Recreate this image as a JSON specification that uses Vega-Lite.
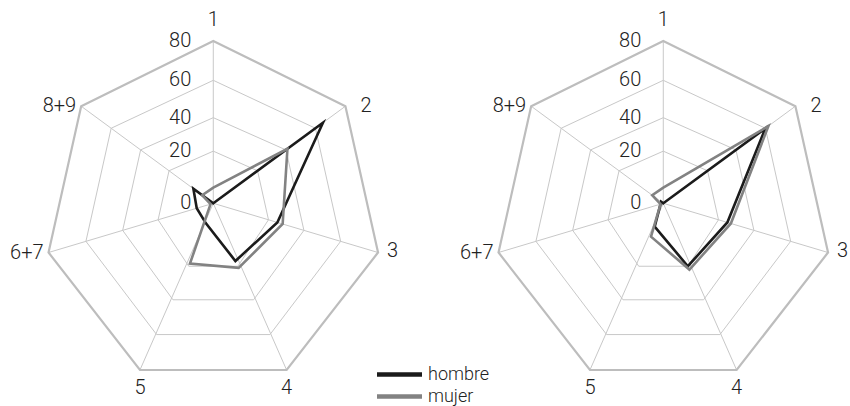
{
  "$schema": "https://vega.github.io/schema/vega-lite/v6.json",
  "width": 850,
  "height": 406,
  "padding": 0,
  "autosize": {"type": "none"},
  "background": "#ffffff",
  "config": {"view": {"stroke": null}},
  "datasets": {
    "cats": [
      {"k": 0, "cat": "1"}, {"k": 1, "cat": "2"}, {"k": 2, "cat": "3"}, {"k": 3, "cat": "4"},
      {"k": 4, "cat": "5"}, {"k": 5, "cat": "6+7"}, {"k": 6, "cat": "8+9"}
    ],
    "ticks": [{"v": 0}, {"v": 20}, {"v": 40}, {"v": 60}, {"v": 80}],
    "vals": [
      {"panel": "A", "serie": "hombre", "k": 0, "v": 0},
      {"panel": "A", "serie": "hombre", "k": 1, "v": 65},
      {"panel": "A", "serie": "hombre", "k": 2, "v": 25},
      {"panel": "A", "serie": "hombre", "k": 3, "v": 18},
      {"panel": "A", "serie": "hombre", "k": 4, "v": 6},
      {"panel": "A", "serie": "hombre", "k": 5, "v": 6},
      {"panel": "A", "serie": "hombre", "k": 6, "v": 9},
      {"panel": "A", "serie": "mujer", "k": 0, "v": 6},
      {"panel": "A", "serie": "mujer", "k": 1, "v": 41},
      {"panel": "A", "serie": "mujer", "k": 2, "v": 28},
      {"panel": "A", "serie": "mujer", "k": 3, "v": 21},
      {"panel": "A", "serie": "mujer", "k": 4, "v": 19},
      {"panel": "A", "serie": "mujer", "k": 5, "v": 1},
      {"panel": "A", "serie": "mujer", "k": 6, "v": 5},
      {"panel": "B", "serie": "hombre", "k": 0, "v": 0},
      {"panel": "B", "serie": "hombre", "k": 1, "v": 60},
      {"panel": "B", "serie": "hombre", "k": 2, "v": 25},
      {"panel": "B", "serie": "hombre", "k": 3, "v": 20},
      {"panel": "B", "serie": "hombre", "k": 4, "v": 7},
      {"panel": "B", "serie": "hombre", "k": 5, "v": 1},
      {"panel": "B", "serie": "hombre", "k": 6, "v": 1},
      {"panel": "B", "serie": "mujer", "k": 0, "v": 6},
      {"panel": "B", "serie": "mujer", "k": 1, "v": 62},
      {"panel": "B", "serie": "mujer", "k": 2, "v": 27},
      {"panel": "B", "serie": "mujer", "k": 3, "v": 22},
      {"panel": "B", "serie": "mujer", "k": 4, "v": 10},
      {"panel": "B", "serie": "mujer", "k": 5, "v": 1},
      {"panel": "B", "serie": "mujer", "k": 6, "v": 5}
    ]
  },
  "encoding": {
    "x": {"field": "ux", "type": "quantitative", "scale": {"domain": [-1.2621, 3.7675], "nice": false, "zero": false}, "axis": null},
    "y": {"field": "uy", "type": "quantitative", "scale": {"domain": [-1.096, -0.901, -0.2225, 0, 0.623, 1, 1.237], "range": [406, 370, 252.5, 203.3, 106.3, 41, 0], "nice": false, "zero": false}, "axis": null}
  },
  "layer": [
    {
      "data": {"name": "cats"},
      "transform": [
        {"calculate": "['A','B']", "as": "pp"}, {"flatten": ["pp"], "as": ["panel"]},
        {"calculate": "[20,40,60]", "as": "ll"}, {"flatten": ["ll"], "as": ["v"]},
        {"calculate": "datum.v <= 20 ? datum.v*0.01675 : datum.v <= 40 ? 0.335 + (datum.v-20)*0.01075 : datum.v <= 60 ? 0.55 + (datum.v-40)*0.01115 : 0.773 + (datum.v-60)*0.01135", "as": "f"},
        {"calculate": "datum.k*2*PI/7", "as": "th"},
        {"calculate": "datum.panel == 'B' ? 2.6627 : 0", "as": "cx"},
        {"calculate": "datum.cx + datum.f*sin(datum.th)", "as": "ux"},
        {"calculate": "datum.f*cos(datum.th)", "as": "uy"}
      ],
      "mark": {"type": "line", "interpolate": "linear-closed", "stroke": "#c8c8c8", "strokeWidth": 1},
      "encoding": {"detail": [{"field": "panel", "type": "nominal"}, {"field": "v", "type": "nominal"}], "order": {"field": "k", "type": "quantitative"}}
    },
    {
      "data": {"name": "cats"},
      "transform": [
        {"calculate": "['A','B']", "as": "pp"}, {"flatten": ["pp"], "as": ["panel"]},
        {"calculate": "80", "as": "v"},
        {"calculate": "1", "as": "f"},
        {"calculate": "datum.k*2*PI/7", "as": "th"},
        {"calculate": "datum.panel == 'B' ? 2.6627 : 0", "as": "cx"},
        {"calculate": "0", "as": "cy"},
        {"calculate": "datum.cx + datum.f*sin(datum.th)", "as": "ux"},
        {"calculate": "datum.f*cos(datum.th)", "as": "uy"}
      ],
      "mark": {"type": "rule", "stroke": "#c8c8c8", "strokeWidth": 1},
      "encoding": {
        "x": {"field": "cx", "type": "quantitative", "scale": {"domain": [-1.2621, 3.7675], "nice": false, "zero": false}, "axis": null},
        "y": {"field": "cy", "type": "quantitative", "scale": {"domain": [-1.096, -0.901, -0.2225, 0, 0.623, 1, 1.237], "range": [406, 370, 252.5, 203.3, 106.3, 41, 0], "nice": false, "zero": false}, "axis": null},
        "x2": {"field": "ux"},
        "y2": {"field": "uy"}
      }
    },
    {
      "data": {"name": "cats"},
      "transform": [
        {"calculate": "['A','B']", "as": "pp"}, {"flatten": ["pp"], "as": ["panel"]},
        {"calculate": "1", "as": "f"},
        {"calculate": "datum.k*2*PI/7", "as": "th"},
        {"calculate": "datum.panel == 'B' ? 2.6627 : 0", "as": "cx"},
        {"calculate": "datum.cx + datum.f*sin(datum.th)", "as": "ux"},
        {"calculate": "datum.f*cos(datum.th)", "as": "uy"}
      ],
      "mark": {"type": "line", "interpolate": "linear-closed", "stroke": "#bdbdbd", "strokeWidth": 2.2},
      "encoding": {"detail": {"field": "panel", "type": "nominal"}, "order": {"field": "k", "type": "quantitative"}}
    },
    {
      "data": {"name": "vals"},
      "transform": [
        {"calculate": "datum.v <= 20 ? datum.v*0.01675 : datum.v <= 40 ? 0.335 + (datum.v-20)*0.01075 : datum.v <= 60 ? 0.55 + (datum.v-40)*0.01115 : 0.773 + (datum.v-60)*0.01135", "as": "f"},
        {"calculate": "datum.k*2*PI/7", "as": "th"},
        {"calculate": "datum.panel == 'B' ? 2.6627 : 0", "as": "cx"},
        {"calculate": "datum.cx + datum.f*sin(datum.th)", "as": "ux"},
        {"calculate": "datum.f*cos(datum.th)", "as": "uy"}
      ],
      "mark": {"type": "line", "interpolate": "linear-closed", "strokeWidth": 2.6, "strokeJoin": "miter"},
      "encoding": {
        "color": {
          "field": "serie", "type": "nominal",
          "scale": {"domain": ["hombre", "mujer"], "range": ["#1b1b1b", "#828282"]},
          "legend": {
            "orient": "none", "legendX": 387, "legendY": 362, "title": null,
            "symbolType": "M-2.25,0H2.25", "symbolSize": 400, "symbolStrokeWidth": 4.5,
            "labelFontSize": 18, "labelFont": "Roboto", "labelFontWeight": 300, "labelColor": "#222222",
            "labelOffset": 16, "rowPadding": 0, "padding": 0
          }
        },
        "detail": {"field": "panel", "type": "nominal"},
        "order": {"field": "k", "type": "quantitative"}
      }
    },
    {
      "data": {"name": "ticks"},
      "transform": [
        {"calculate": "['A','B']", "as": "pp"}, {"flatten": ["pp"], "as": ["panel"]},
        {"calculate": "datum.v <= 20 ? datum.v*0.01675 : datum.v <= 40 ? 0.335 + (datum.v-20)*0.01075 : datum.v <= 60 ? 0.55 + (datum.v-40)*0.01115 : 0.773 + (datum.v-60)*0.01135", "as": "f"},
        {"calculate": "datum.panel == 'B' ? 2.6627 : 0", "as": "ux"},
        {"calculate": "datum.f", "as": "uy"}
      ],
      "mark": {"type": "text", "align": "right", "baseline": "middle", "dx": -22, "fontSize": 20, "font": "Roboto", "fontWeight": 300, "color": "#222222"},
      "encoding": {"text": {"field": "v", "type": "quantitative"}}
    },
    {
      "data": {"name": "cats"},
      "transform": [
        {"filter": "datum.k == 0"},
        {"calculate": "['A','B']", "as": "pp"}, {"flatten": ["pp"], "as": ["panel"]},
        {"calculate": "datum.k*2*PI/7", "as": "th"},
        {"calculate": "(datum.panel == 'B' ? 2.6627 : 0) + sin(datum.th)", "as": "ux"},
        {"calculate": "cos(datum.th)", "as": "uy"}
      ],
      "mark": {"type": "text", "align": "center", "baseline": "middle", "dy": -21, "fontSize": 20, "font": "Roboto", "fontWeight": 300, "color": "#222222"},
      "encoding": {"text": {"field": "cat", "type": "nominal"}}
    },
    {
      "data": {"name": "cats"},
      "transform": [
        {"filter": "datum.k == 1"},
        {"calculate": "['A','B']", "as": "pp"}, {"flatten": ["pp"], "as": ["panel"]},
        {"calculate": "datum.k*2*PI/7", "as": "th"},
        {"calculate": "(datum.panel == 'B' ? 2.6627 : 0) + sin(datum.th)", "as": "ux"},
        {"calculate": "cos(datum.th)", "as": "uy"}
      ],
      "mark": {"type": "text", "align": "left", "baseline": "middle", "dx": 15, "dy": 0, "fontSize": 20, "font": "Roboto", "fontWeight": 300, "color": "#222222"},
      "encoding": {"text": {"field": "cat", "type": "nominal"}}
    },
    {
      "data": {"name": "cats"},
      "transform": [
        {"filter": "datum.k == 2"},
        {"calculate": "['A','B']", "as": "pp"}, {"flatten": ["pp"], "as": ["panel"]},
        {"calculate": "datum.k*2*PI/7", "as": "th"},
        {"calculate": "(datum.panel == 'B' ? 2.6627 : 0) + sin(datum.th)", "as": "ux"},
        {"calculate": "cos(datum.th)", "as": "uy"}
      ],
      "mark": {"type": "text", "align": "left", "baseline": "middle", "dx": 9, "dy": -2, "fontSize": 20, "font": "Roboto", "fontWeight": 300, "color": "#222222"},
      "encoding": {"text": {"field": "cat", "type": "nominal"}}
    },
    {
      "data": {"name": "cats"},
      "transform": [
        {"filter": "datum.k == 3 || datum.k == 4"},
        {"calculate": "['A','B']", "as": "pp"}, {"flatten": ["pp"], "as": ["panel"]},
        {"calculate": "datum.k*2*PI/7", "as": "th"},
        {"calculate": "(datum.panel == 'B' ? 2.6627 : 0) + sin(datum.th)", "as": "ux"},
        {"calculate": "cos(datum.th)", "as": "uy"}
      ],
      "mark": {"type": "text", "align": "center", "baseline": "middle", "dy": 18, "fontSize": 20, "font": "Roboto", "fontWeight": 300, "color": "#222222"},
      "encoding": {"text": {"field": "cat", "type": "nominal"}}
    },
    {
      "data": {"name": "cats"},
      "transform": [
        {"filter": "datum.k == 5 || datum.k == 6"},
        {"calculate": "['A','B']", "as": "pp"}, {"flatten": ["pp"], "as": ["panel"]},
        {"calculate": "datum.k*2*PI/7", "as": "th"},
        {"calculate": "(datum.panel == 'B' ? 2.6627 : 0) + sin(datum.th)", "as": "ux"},
        {"calculate": "cos(datum.th)", "as": "uy"}
      ],
      "mark": {"type": "text", "align": "right", "baseline": "middle", "dx": -5, "fontSize": 20, "font": "Roboto", "fontWeight": 300, "color": "#222222"},
      "encoding": {"text": {"field": "cat", "type": "nominal"}}
    }
  ]
}
